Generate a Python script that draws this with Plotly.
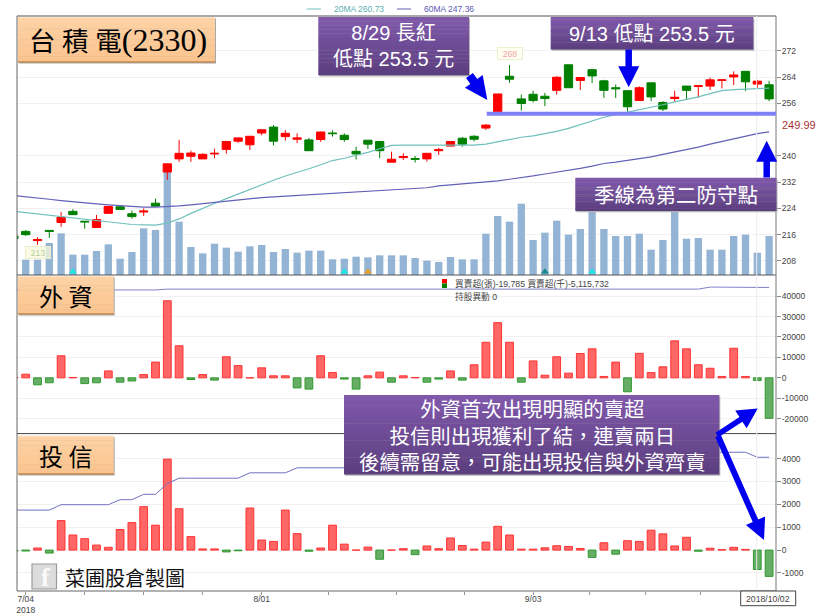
import plotly.graph_objects as go

# ---- data (index -1 = 7/03, 0 = 7/04 ... 63 = 10/02) ----
days = list(range(-1, 64))
opens = [215.6,217.0,214.2,217.3,219.7,223.1,220.1,218.2,222.5,224.5,222.4,222.9,225.6,235.1,239.1,239.9,239.1,240.6,242.0,244.5,243.4,247.0,248.8,245.9,245.1,244.9,245.0,247.0,246.3,241.4,244.8,244.4,238.1,239.5,
         239.2,239.1,241.6,243.0,245.4,246.0,248.5,253.5,264.3,257.4,258.8,258.2,260.0,267.8,263.0,266.3,262.9,260.8,259.9,256.9,262.3,256.3,257.5,261.3,261.2,261.3,263.0,264.1,265.8,261.9,261.7]
highs = [216.5,217.4,215.2,217.4,222.9,223.8,220.1,222.0,224.6,225.0,223.4,224.0,227.0,237.6,244.9,241.6,240.8,242.2,244.6,245.6,246.0,248.0,249.4,247.9,246.9,245.5,247.4,247.8,246.9,242.8,244.8,244.4,241.3,240.8,
         240.0,240.8,242.5,244.5,245.8,246.3,249.7,258.9,267.7,258.7,259.9,259.2,264.3,267.8,263.9,266.6,263.2,261.8,259.9,261.2,262.3,256.7,259.9,261.3,261.5,263.9,263.3,265.8,265.9,263.2,262.9]
lows = [214.5,215.6,212.9,215.0,218.4,222.0,217.8,218.0,222.5,223.7,220.9,221.7,224.7,232.7,238.2,238.2,239.1,239.3,240.7,244.0,241.8,246.3,243.2,244.7,243.9,241.6,244.3,245.9,244.3,238.9,242.1,239.3,238.1,238.8,
        238.0,238.3,240.3,243.0,242.8,244.4,247.9,253.5,262.3,253.8,256.3,255.2,258.7,260.8,260.1,262.2,257.7,257.7,253.5,256.9,256.7,253.7,256.6,257.3,257.7,260.1,260.6,261.6,259.8,260.6,256.7]
closes = [214.8,216.0,214.5,217.0,221.3,222.1,219.9,220.6,224.6,223.7,221.5,223.2,224.7,237.6,240.8,240.9,240.5,240.8,244.4,245.5,246.0,248.0,244.5,246.9,245.5,241.6,247.3,246.8,245.0,240.6,243.6,241.6,239.0,239.8,
          239.0,240.8,241.9,244.4,243.6,245.1,249.4,258.9,263.4,256.0,256.9,257.5,264.0,260.8,263.9,264.4,260.0,260.5,255.0,260.8,258.0,254.3,257.9,260.0,261.4,263.2,263.2,264.7,262.6,262.8,257.4]
ma20 = [223.1,222.7,222.3,221.8,221.3,220.9,220.5,220.1,219.7,219.3,219.1,219.0,218.9,219.5,220.8,222.5,223.9,225.5,227.0,228.4,229.9,231.4,232.6,233.9,234.9,236.1,237.3,238.6,239.3,240.1,241.1,242.2,243.2,243.3,
        243.3,243.3,243.3,243.3,243.3,243.3,243.6,244.3,245.1,245.7,246.1,246.7,247.5,248.4,249.5,250.7,251.8,252.6,253.3,254.1,254.9,255.6,256.5,257.2,258.0,259.0,259.9,260.2,260.4,260.5,260.7]
ma60 = [227.9,227.6,227.2,226.8,226.4,226.0,225.7,225.4,225.1,224.8,224.6,224.4,224.4,224.5,224.8,225.1,225.5,225.8,226.2,226.6,227.0,227.3,227.5,227.7,227.9,228.1,228.3,228.6,228.9,229.1,229.3,229.5,229.7,229.9,
        230.0,230.3,230.9,231.2,231.5,231.8,232.0,232.4,232.9,233.3,233.9,234.5,235.0,235.5,236.2,236.9,237.7,238.1,238.6,239.0,239.7,240.5,241.2,241.9,242.7,243.6,244.4,245.3,246.1,246.8,247.36]
volume = [0,9.2,9.2,19.2,25,12.2,12.2,14.4,18.4,9.8,13.8,28,27,61.8,32,16.8,13,18.8,16.4,14,17.2,18,13.8,15.6,13.4,14.6,14.6,9.4,9.8,11,10.6,11.8,11.8,11.8,
          10.2,8.6,7.8,10.8,9.4,9.4,24.8,35.4,32,42.8,21,25.4,32.6,24.2,27.6,44.8,27.6,23.4,23.4,24.8,15.2,21,42.8,21.8,22.2,15.2,15.2,23.4,24.2,13.4,23.4]
foreign = [300,1800,-3400,-2400,10800,200,-2800,-2400,3400,-2100,-1500,1600,7700,37700,15700,-800,1600,-1100,10300,6000,0,4900,1000,1000,-4900,-5500,10800,2600,-600,-5500,1000,2800,-2100,1000,
           200,-2100,-600,3400,-1100,6400,17400,27000,17400,-2100,8300,1300,10300,2300,11900,14200,700,7700,-6800,12000,2600,5400,18100,14200,6400,4700,700,14500,700,-1300,-19785]
trust = [-50,-40,90,-130,1290,660,500,220,120,900,1200,1900,1090,3980,1810,590,50,50,-80,-30,1840,440,380,1750,720,-50,90,1090,260,0,130,-400,0,60,
         -200,180,60,530,200,40,350,1040,660,40,40,100,190,160,70,-320,320,-180,410,380,870,710,180,560,-50,80,20,120,30,-850,-1150]
foreign_hold = [43000]*13 + [43400]*46 + [44400]*5 + [44200]
trust_hold = [1750]*4 + [1985]*5 + [2205]*2 + [2440]*2 + [2910] + [3145]*6 + [3380]*4 + [3600]*11 + [3750]*3 + [3950]*7 + [4100]*7 + [4280]*11 + [4060]*2
support_level = 252.85
sig_cyan = [4, 27, 48]
sig_orange = [29]
sig_teal = [44]
tick_days = [0, 5, 10, 15, 20, 25.7, 31.4, 37.2, 43, 47.8, 52.5, 57.2]
tick_text = ["7/04<br>2018", "", "", "", "8/01", "", "", "", "9/03", "", "", ""]
price_ticks = [208, 216, 224, 232, 240, 256, 264, 272]
foreign_ticks = [-20000, -10000, 0, 10000, 20000, 30000, 40000]
trust_ticks = [-1000, 0, 1000, 2000, 3000, 4000]

W, H = 820, 615
L, R, T, B, D1, D2 = 17, 776, 16, 591, 275, 433.6
CJK = '"Liberation Sans","Noto Sans CJK TC",sans-serif'
TICK = dict(family="Liberation Sans", size=8.5, color="#444444")
GRID = "#f1f1f1"

def px(x): return x / W
def py(y): return 1 - y / H

def hexmix(a, b, t):
    ca = [int(a[i:i+2], 16) for i in (1, 3, 5)]
    cb = [int(b[i:i+2], 16) for i in (1, 3, 5)]
    return "#%02x%02x%02x" % tuple(round(p + (q - p) * t) for p, q in zip(ca, cb))

shapes, notes = [], []

def rect(x0, y0, x1, y1, fill, line=None, lw=0):
    shapes.append(dict(type="rect", xref="paper", yref="paper", x0=px(x0), x1=px(x1), y0=py(y0), y1=py(y1),
                       fillcolor=fill, line=dict(color=line or fill, width=lw), layer="above"))

def hline(x0, x1, y, color, lw=1):
    shapes.append(dict(type="line", xref="paper", yref="paper", x0=px(x0), x1=px(x1), y0=py(y), y1=py(y),
                       line=dict(color=color, width=lw), layer="above"))

def vline(x, y0, y1, color, lw=1):
    shapes.append(dict(type="line", xref="paper", yref="paper", x0=px(x), x1=px(x), y0=py(y0), y1=py(y1),
                       line=dict(color=color, width=lw), layer="above"))

def text(x, y, s, size, color, family=CJK, anchor="center"):
    notes.append(dict(xref="paper", yref="paper", x=px(x), y=py(y), text=s, showarrow=False, xanchor=anchor,
                      yanchor="middle", align=anchor if anchor != "center" else "center",
                      font=dict(family=family, size=size, color=color)))

def grad(x0, y0, x1, y1, top, bot, n=14):
    for i in range(n):
        a, b = y0 + (y1 - y0) * i / n, y0 + (y1 - y0) * (i + 1) / n
        rect(x0, a, x1, b + 0.3, hexmix(top, bot, i / (n - 1)))

def purple(x0, y0, x1, y1):
    rect(x0 + 1, y0 + 1.5, x1 + 1, y1 + 1.5, "#b5b5b5")
    grad(x0, y0, x1, y1, "#8058aa", "#5c3f80")

def orange(x0, y0, x1, y1):
    rect(x0 + 1, y0 + 1.5, x1 + 1, y1 + 1.5, "#a8a8a8")
    grad(x0, y0, x1, y1, "#fdd2a5", "#fbc48e", 8)
    hline(x0, x1, y1, "#c08a55", 1.5)
    hline(x0, x1, y0 + 0.5, "#ffe4c8", 1)

def arrow(x0, y0, x1, y1, sw, hw, hl, color="#0000ee"):
    dx, dy = x1 - x0, y1 - y0
    n = (dx * dx + dy * dy) ** 0.5
    ux, uy = dx / n, dy / n
    nx, ny = -uy, ux
    bx, by = x1 - ux * hl, y1 - uy * hl
    pts = [(x0 + nx * sw / 2, y0 + ny * sw / 2), (bx + nx * sw / 2, by + ny * sw / 2),
           (bx + nx * hw / 2, by + ny * hw / 2), (x1, y1), (bx - nx * hw / 2, by - ny * hw / 2),
           (bx - nx * sw / 2, by - ny * sw / 2), (x0 - nx * sw / 2, y0 - ny * sw / 2)]
    path = "M" + " L".join(f"{px(a):.5f},{py(b):.5f}" for a, b in pts) + " Z"
    shapes.append(dict(type="path", xref="paper", yref="paper", path=path, fillcolor=color,
                       line=dict(color=color, width=0), layer="above"))

fig = go.Figure()

# volume (base axis, drawn under everything)
fig.add_trace(go.Bar(x=days, y=volume, width=0.62, marker=dict(color="#93b4d4", line=dict(width=0)), yaxis="y", hoverinfo="skip"))
for idx, col in ((sig_cyan, "#19e6e6"), (sig_orange, "#e8a020"), (sig_teal, "#178a8a")):
    fig.add_trace(go.Scatter(x=idx, y=[1.9] * len(idx), mode="markers", yaxis="y", hoverinfo="skip",
                             marker=dict(symbol="triangle-up", size=7, color=col)))

# price
fig.add_trace(go.Scatter(x=days, y=ma20, mode="lines", yaxis="y2", line=dict(color="#6fc0bd", width=1.2), hoverinfo="skip"))
fig.add_trace(go.Scatter(x=days, y=ma60, mode="lines", yaxis="y2", line=dict(color="#6360b8", width=1.2), hoverinfo="skip"))
fig.add_trace(go.Candlestick(x=days, open=opens, high=highs, low=lows, close=closes, yaxis="y2", whiskerwidth=0,
                             increasing=dict(line=dict(color="#ff0000", width=1), fillcolor="#ff0000"),
                             decreasing=dict(line=dict(color="#008000", width=1), fillcolor="#008000"),
                             hoverinfo="skip"))

# foreign investors
def bar_cols(vals, up, down): return [up if v >= 0 else down for v in vals]
fig.add_trace(go.Bar(x=days, y=foreign, width=0.66, yaxis="y3", hoverinfo="skip",
                     marker=dict(color=bar_cols(foreign, "#ff6666", "#66ad66"),
                                 line=dict(color=bar_cols(foreign, "#ff3333", "#2f9a2f"), width=1))))
fig.add_trace(go.Scatter(x=days, y=foreign_hold, mode="lines", yaxis="y3", line=dict(color="#8080c8", width=1), hoverinfo="skip"))

# investment trusts
fig.add_trace(go.Bar(x=days, y=trust, width=0.66, yaxis="y4", hoverinfo="skip",
                     marker=dict(color=bar_cols(trust, "#ff6666", "#66ad66"),
                                 line=dict(color=bar_cols(trust, "#ff3333", "#2f9a2f"), width=1))))
fig.add_trace(go.Scatter(x=days, y=trust_hold, mode="lines", yaxis="y4", line=dict(color="#7070c0", width=1), hoverinfo="skip"))

# frame
hline(L, R, T, "#8c8c8c", 1.5)
hline(L, R, D1, "#555555", 1)
hline(L, R, D2, "#444444", 1)
hline(L, R, B, "#666666", 1)
vline(L, T, B, "#666666", 1)
vline(R, T, B, "#777777", 1)
vline(756.7, T, B, "#ececec", 1)

# support line
shapes.append(dict(type="line", xref="x", yref="y2", x0=39.07, x1=63.58, y0=support_level, y1=support_level,
                   line=dict(color="#7f7ff5", width=4), layer="above"))

# boxes
orange(18, 17, 215, 62)
orange(18, 276, 113.7, 314)
orange(18, 435.7, 113.7, 474)
purple(318.3, 17, 469, 75)
purple(550.7, 17, 753.3, 49.3)
purple(575.3, 177.7, 776.5, 210.7)
purple(344, 395, 719.3, 474.3)

# arrows
arrow(469.5, 75.5, 487.3, 100, 8.5, 22, 23)
arrow(628.7, 49.5, 628.7, 87.3, 6.5, 21, 21)
arrow(766.7, 177.5, 766.7, 140.7, 6.5, 21, 21)
arrow(717, 435, 757.7, 408.5, 5.5, 21, 20)
arrow(718, 436, 764, 540, 6, 21, 21)

# legend
hline(306.6, 321, 9, "#6fc0bd", 1)
text(331.5, 9, "20MA 260.73", 8.5, "#58b0b0", anchor="left")
hline(397, 411, 9, "#6360b8", 1)
text(421.5, 9, "60MA 247.36", 8.5, "#5a5ab0", anchor="left")

# titles
text(26.5, 40, '台 積 電<span style="font-size:32px">(2330)</span>', 26.5, "#000000",
     family='"Liberation Serif","Noto Sans CJK TC",serif', anchor="left")
text(65.5, 295.5, "外 資", 24, "#000000", family='"Noto Sans CJK TC"')
text(65.5, 455, "投 信", 24, "#000000", family='"Noto Sans CJK TC"')

# callouts
text(393, 46, "8/29 長紅<br>低點 253.5 元", 20, "#ffffff")
text(652, 34, "9/13 低點 253.5 元", 20, "#ffffff")
text(676, 195, "季線為第二防守點", 20.5, "#ffffff")
text(532, 436, "外資首次出現明顯的賣超<br>投信則出現獲利了結\uff0c連賣兩日<br>後續需留意\uff0c可能出現投信與外資齊賣", 20.4, "#ffffff")

# chart texts
notes.append(dict(xref="paper", yref="y2", x=px(779.5), y=249.99, text="249.99", showarrow=False, xanchor="left", yanchor="middle", yshift=-2,
                  font=dict(family="Liberation Sans", size=11, color="#a83232")))
notes.append(dict(xref="x", yref="y2", x=41, y=max(highs), text="268", showarrow=False, yshift=5, yanchor="bottom", height=9, width=22,
                  bgcolor="#fffff2", bordercolor="#eeeecc", borderwidth=1, font=dict(family="Liberation Sans", size=8.5, color="#f4a0a0")))
notes.append(dict(xref="x", yref="y2", x=1, y=min(lows), text="213", showarrow=False, yshift=-1, yanchor="top", height=9, width=22,
                  bgcolor="rgba(250,250,220,0.75)", bordercolor="#eeeecc", borderwidth=1, font=dict(family="Liberation Sans", size=8.5, color="#b4cc9c")))
rect(442, 279, 447, 283.5, "#ff0000")
rect(442, 283.5, 447, 288, "#008000")
text(452.5, 283, "買賣超(張)-19,785 買賣超(千)-5,115,732", 8.7, "#444444", anchor="left")
text(452.5, 296, "持股異動 0", 8.7, "#444444", anchor="left")

# logo
shapes.append(dict(type="rect", xref="paper", yref="paper", x0=px(32), x1=px(56.5), y0=py(564), y1=py(589),
                   fillcolor="#dcdcdc", line=dict(color="#9a9a9a", width=1.2), layer="above"))
text(45, 577, "<b>f</b>", 26, "#fafafa", family="Liberation Serif")
text(125, 577, "菜圃股倉製圖", 20, "#111111", family='"Noto Sans CJK TC"')

# date box
shapes.append(dict(type="rect", xref="paper", yref="paper", x0=px(740.7), x1=px(795.7), y0=py(591), y1=py(605.7),
                   fillcolor="#ffffff", line=dict(color="#444444", width=1), layer="above"))
text(768, 598.5, "2018/10/02", 8.7, "#444444", family="Liberation Sans")

def yax(rng, ticks, top, bottom, extra=None):
    ax = dict(domain=[py(bottom), py(top)], range=rng, side="right", anchor="x", automargin=False,
              tickmode="array", tickvals=ticks, ticktext=[str(t) for t in ticks], ticks="outside", ticklen=4,
              tickcolor="#888888", tickwidth=1, ticklabelstandoff=-1,
              tickfont=TICK, showgrid=True, gridcolor=GRID, gridwidth=1, zeroline=False, showline=False, fixedrange=True)
    if extra: ax.update(extra)
    return ax

axis_y1 = dict(domain=[py(D1), py(T)], range=[0, 155.4], visible=False, fixedrange=True, automargin=False)
axis_y2 = yax([203.7, 282.67], price_ticks, T, D1, dict(overlaying="y"))
axis_y3 = yax([-27250, 50300], foreign_ticks, D1, D2)
axis_y4 = yax([-1790, 5096], trust_ticks, D2, B)

fig.update_layout(
    width=W, height=H, margin=dict(l=0, r=0, t=0, b=0), showlegend=False,
    paper_bgcolor="#ffffff", plot_bgcolor="#ffffff", barmode="overlay",
    boxgap=0.3, boxgroupgap=0,
    xaxis=dict(domain=[px(L), px(R)], range=[(L - 25.7) / 11.8, (R - 25.7) / 11.8], anchor="y4", automargin=False,
               rangeslider=dict(visible=False), showgrid=False, zeroline=False, showline=False,
               tickmode="array", tickvals=tick_days, ticktext=tick_text, ticks="outside", ticklen=3,
               tickcolor="#999999", tickfont=TICK, tickangle=0, fixedrange=True, ticklabelstandoff=-3),
    yaxis=axis_y1, yaxis2=axis_y2, yaxis3=axis_y3, yaxis4=axis_y4,
    shapes=shapes, annotations=notes,
)
fig.write_html("out.html", config=dict(displayModeBar=False),
               post_script="document.body.style.margin='0';document.documentElement.style.overflow='hidden';")
